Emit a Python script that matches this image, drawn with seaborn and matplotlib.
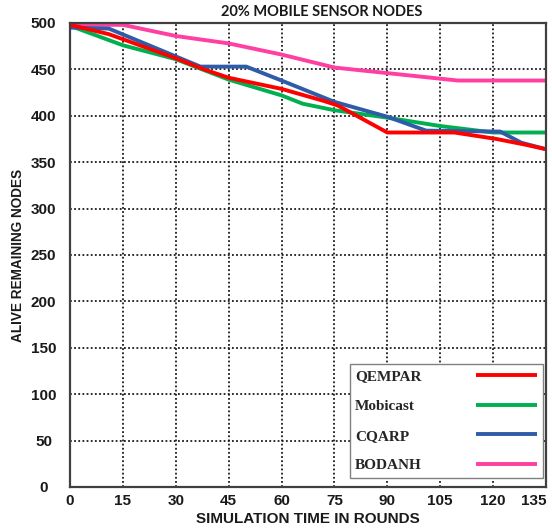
import matplotlib
matplotlib.use("Agg")
import matplotlib.pyplot as plt
from matplotlib.lines import Line2D
from matplotlib.font_manager import FontProperties
import seaborn as sns
import pandas as pd

# ---- data ----
series_names = ["QEMPAR", "Mobicast", "CQARP", "BODANH"]
series_colors = ["#ff0000", "#00b050", "#2f5ca8", "#ff3fa2"]

qempar_x = [0, 11, 30, 38, 45, 60, 72, 76, 90, 109, 121, 129, 135]
qempar_y = [498, 488, 462, 450, 441, 429, 416, 411, 382, 382, 375, 369, 364]

mobicast_x = [0, 15, 30, 45, 60, 66, 75, 90, 105, 120, 135]
mobicast_y = [497, 476, 461, 439, 422, 413, 406, 398, 389, 382, 382]

cqarp_x = [0, 11, 30, 37, 50, 60, 75, 90, 101, 122, 128, 135]
cqarp_y = [495, 494, 464, 453, 453, 438, 415, 399, 384, 383, 371, 364]

bodanh_x = [0, 15, 30, 45, 60, 75, 90, 110, 135]
bodanh_y = [498, 498, 486, 478, 466, 452, 446, 438, 438]

x_ticks = [0, 15, 30, 45, 60, 75, 90, 105, 120, 135]
y_ticks = [0, 50, 100, 150, 200, 250, 300, 350, 400, 450, 500]

title_text = "20% MOBILE SENSOR NODES"
x_label = "SIMULATION TIME IN ROUNDS"
y_label = "ALIVE REMAINING NODES"

frames = []
for name, xs, ys in zip(series_names,
                        [qempar_x, mobicast_x, cqarp_x, bodanh_x],
                        [qempar_y, mobicast_y, cqarp_y, bodanh_y]):
    frames.append(pd.DataFrame({"x": xs, "value": ys, "series": name}))
df = pd.concat(frames, ignore_index=True)

sns.set_style("white")
plt.rcParams["font.family"] = ["Liberation Sans", "DejaVu Sans"]

fig = plt.figure(figsize=(5.52, 5.31), dpi=100)
W, H = 552, 531
ax = fig.add_axes([70 / W, (H - 487) / H, (546 - 70) / W, (487 - 23) / H])

LW = 2.8
sns.lineplot(data=df, x="x", y="value", hue="series", hue_order=series_names,
             palette=series_colors, linewidth=LW, estimator=None, sort=False,
             legend=False, ax=ax)
for ln, z in zip(ax.lines, [5, 3, 4, 2]):
    ln.set_zorder(z)
    ln.set_solid_capstyle("butt")

ax.set_xlim(0, 135)
ax.set_ylim(0, 500)
ax.set_xticks(x_ticks)
ax.set_yticks(y_ticks)
ax.grid(True, color="#1a1a1a", linestyle=(0, (1.0, 1.3)), linewidth=1.3)
ax.set_axisbelow(True)
for s in ax.spines.values():
    s.set_color("#404040")
    s.set_linewidth(1.6)
    s.set_zorder(6)

ax.tick_params(axis="both", length=0, labelsize=11)
ax.tick_params(axis="x", pad=5)
ax.tick_params(axis="y", pad=19)
for t in ax.get_xticklabels() + ax.get_yticklabels():
    t.set_fontweight("bold")
    t.set_color("#1a1a1a")
for t in ax.get_yticklabels():
    t.set_horizontalalignment("center")
ax.get_xticklabels()[-1].set_horizontalalignment("right")

ax.set_xlabel(x_label, fontsize=11, fontweight="bold", color="#1a1a1a", labelpad=3)
ax.set_ylabel(y_label, fontsize=9.8, fontweight="bold", color="#1a1a1a")
ax.yaxis.set_label_coords(-0.095, 0.5)
fig.text(322 / W, 1 - 12 / H, title_text, ha="center", va="center",
         fontsize=10.5, fontweight="bold", family=["Lato", "DejaVu Sans"], color="#1a1a1a")

handles = [Line2D([], [], color=c, linewidth=LW, solid_capstyle="butt") for c in series_colors]
leg = ax.legend(handles, series_names, loc="lower right", bbox_to_anchor=(0.993, 0.02),
                borderaxespad=0, markerfirst=False, frameon=True, fancybox=False,
                edgecolor="#808080", framealpha=1,
                prop=FontProperties(family="Liberation Serif", weight="bold", size=11),
                handlelength=4.0, handletextpad=3.55, labelspacing=1.05, borderpad=0.35)
leg.get_frame().set_linewidth(1.0)
leg.set_zorder(7)

fig.canvas.draw()
renderer = fig.canvas.get_renderer()
texts = leg.get_texts()
widths = [t.get_window_extent(renderer).width for t in texts]
maxw = max(widths)
col = leg._legend_handle_box.get_children()[0]
for item, w in zip(col.get_children(), widths):
    item.sep = leg.handletextpad * 11 + (maxw - w) * 72.0 / fig.dpi

fig.savefig("out.png", dpi=100)
